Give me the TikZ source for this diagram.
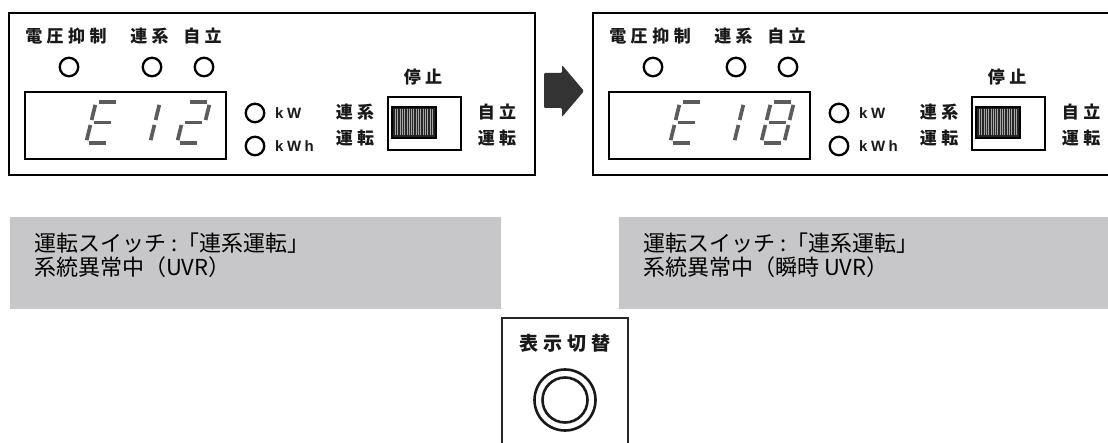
\documentclass[tikz,border=0pt]{standalone}
\usepackage{fontspec}
\newfontfamily\jp{Noto Sans CJK JP}
\newfontfamily\lat{Liberation Sans}
\definecolor{grayfill}{RGB}{199,199,201}
\definecolor{segc}{RGB}{92,92,92}
\definecolor{arrowc}{RGB}{51,51,51}
\newcommand\ls{\hspace{4.5pt}}
\newcommand\dseg[5]{\draw[segline] ({#1+#2*23+#3*10},{143-#3*41}) -- ({#1+#4*23+#5*10},{143-#5*41});}
\newcommand\segA[1]{\dseg{#1}{0.13}{1}{0.87}{1}}
\newcommand\segB[1]{\dseg{#1}{1}{0.56}{1}{0.93}}
\newcommand\segC[1]{\dseg{#1}{1}{0.07}{1}{0.44}}
\newcommand\segD[1]{\dseg{#1}{0.13}{0}{0.87}{0}}
\newcommand\segE[1]{\dseg{#1}{0}{0.07}{0}{0.44}}
\newcommand\segF[1]{\dseg{#1}{0}{0.56}{0}{0.93}}
\newcommand\segG[1]{\dseg{#1}{0.13}{0.5}{0.87}{0.5}}
\newcommand\mypanel[2]{%
  \node[panelbox, minimum width=526, minimum height=162] (#1box) at (272,94) {};
  \node[lab] (#1v) at (66,36) {電\ls 圧\ls 抑\ls 制};
  \node[lab] (#1r) at (149.5,36) {連\ls 系};
  \node[lab] (#1j) at (202.5,36) {自\ls 立};
  \node[lamp] (#1l1) at (69,67) {};
  \node[lamp] (#1l2) at (152,67) {};
  \node[lamp] (#1l3) at (204,67) {};
  \node[dispbox, minimum width=201, minimum height=67] (#1d) at (125.5,125.5) {};
  #2
  \node[lamp] (#1kw) at (255,113) {};
  \node[lamp] (#1kwh) at (255,146) {};
  \node[unit, anchor=west] (#1kwt) at (275,113) {k\hspace{3.5pt}W};
  \node[unit, anchor=west] (#1kwht) at (275,146) {k\hspace{3.5pt}W\hspace{3.5pt}h};
  \node[lab] (#1rl1) at (355,112) {連\ls 系};
  \node[lab] (#1rl2) at (355,138) {運\ls 転};
  \node[lab] (#1stop) at (423,77) {停\ls 止};
  \node[panelbox, minimum width=73, minimum height=53] (#1sw) at (424.5,123.5) {};
  \fill[black!85] (392,107) rectangle (436,138);
  \foreach \k in {0,...,16} \draw[black!35, line width=0.9pt] ({395.5+\k*2.3},109.5) -- ({395.5+\k*2.3},135.5);
  \node[draw, line width=2.2pt, minimum width=44, minimum height=31, inner sep=0pt] (#1sl) at (414,122.5) {};
  \node[lab] (#1jl1) at (497,112) {自\ls 立};
  \node[lab] (#1jl2) at (497,138) {運\ls 転};
}
\begin{document}
\begin{tikzpicture}[x=1pt,y=-1pt,
  panelbox/.style={draw=black, line width=2.4pt, inner sep=0pt},
  dispbox/.style={draw=black, line width=2.2pt, inner sep=0pt},
  lamp/.style={circle, draw=black, line width=2.3pt, minimum size=18.5pt, inner sep=0pt},
  lab/.style={font=\jp\bfseries\fontsize{17}{17}\selectfont, inner sep=0pt, text=black!90},
  unit/.style={font=\lat\bfseries\fontsize{15}{15}\selectfont, inner sep=0pt, text=black!90},
  segline/.style={draw=segc, line width=3.7pt},
  graybox/.style={fill=grayfill, draw=none, inner sep=0pt},
  gtext/.style={font=\jp\fontsize{22}{22}\selectfont, inner sep=0pt, anchor=base west},
  btnlab/.style={font=\jp\bfseries\fontsize{19}{19}\selectfont, inner sep=0pt, text=black!90},
  ring/.style={draw=black!90, line width=2.6pt}
]
\useasboundingbox (0,0) rectangle (1108,443);
% left panel
\mypanel{L}{\segA{86}\segD{86}\segE{86}\segF{86}\segG{86}
  \segB{127}\segC{127}
  \segA{177}\segB{177}\segG{177}\segE{177}\segD{177}}
% arrow
\fill[arrowc, rounded corners=1.2pt] (544,73) -- (562,73) -- (562,65) -- (584,91) -- (562,117) -- (562,108) -- (544,108) -- cycle;
% right panel
\begin{scope}[shift={(584,0)}]
\mypanel{R}{\segA{86}\segD{86}\segE{86}\segF{86}\segG{86}
  \segB{127}\segC{127}
  \segA{177}\segB{177}\segC{177}\segD{177}\segE{177}\segF{177}\segG{177}}
\end{scope}
% gray boxes
\node[graybox, minimum width=491, minimum height=92, anchor=north west] (gl) at (10,217) {};
\node[gtext] (gl1) at (34,252) {運転スイッチ :「連系運転」};
\node[gtext] (gl2) at (34,276) {系統異常中（UVR）};
\node[graybox, minimum width=491, minimum height=92, anchor=north west] (gr) at (619,217) {};
\node[gtext] (gr1) at (643,252) {運転スイッチ :「連系運転」};
\node[gtext] (gr2) at (643,276) {系統異常中（瞬時 UVR）};
% button
\draw[draw=black!85, line width=2.5pt] (502,450) -- (502,318) -- (628,318) -- (628,450);
\node[btnlab] (bl) at (565,343) {表\hspace{5pt}示\hspace{5pt}切\hspace{5pt}替};
\node[circle, ring, minimum size=61pt, inner sep=0pt] (bo) at (565,400) {};
\node[circle, ring, minimum size=45pt, inner sep=0pt] (bi) at (565,400) {};
\end{tikzpicture}
\end{document}
